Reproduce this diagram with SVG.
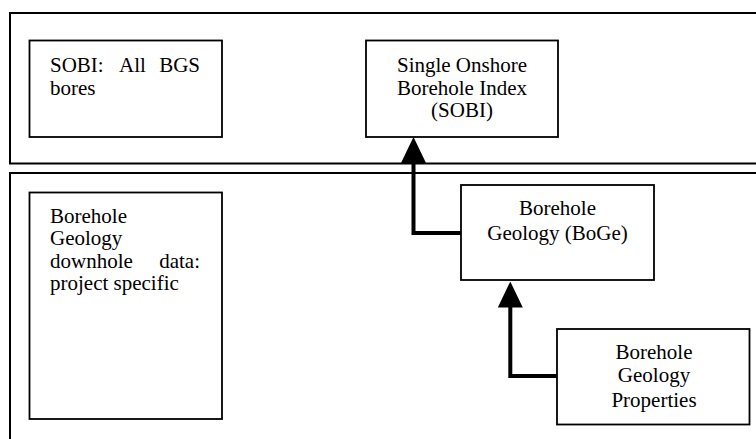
<svg xmlns="http://www.w3.org/2000/svg" width="756" height="439" viewBox="0 0 756 439">
<style>
.frame{fill:none;stroke:#000;stroke-width:2}
.box{fill:#fff;stroke:#000;stroke-width:1.8}
.t{font-family:"Liberation Serif","Times New Roman",serif;font-size:21px;fill:#000}
.c{text-anchor:middle}
.e{text-anchor:end}
.link{fill:none;stroke:#000;stroke-width:4}
</style>
<defs>
<marker id="ah" markerUnits="userSpaceOnUse" markerWidth="26" markerHeight="26" refX="13" refY="12.5" orient="auto" viewBox="0 0 26 25">
<path d="M0,0 L26,12.5 L0,25 Z" fill="#000"/>
</marker>
</defs>
<rect x="0" y="0" width="756" height="439" fill="#fff"/>
<g id="top-frame"><path class="frame" d="M760,13 H10 V163.5 H760"/></g>
<g id="bottom-frame"><path class="frame" d="M760,173 H10 V445"/></g>

<g id="sobi-all">
<rect class="box" x="29.5" y="40.5" width="192.5" height="96.5"/>
<text class="t" y="72"><tspan x="50">SOBI:</tspan><tspan x="119">All</tspan><tspan x="200" class="e">BGS</tspan></text>
<text class="t" x="50" y="95">bores</text>
</g>

<g id="sobi">
<rect class="box" x="366" y="40.5" width="192" height="96.5"/>
<text class="t c" x="462" y="72">Single Onshore</text>
<text class="t c" x="462" y="94.5">Borehole Index</text>
<text class="t c" x="462" y="117">(SOBI)</text>
</g>

<g id="downhole">
<rect class="box" x="29.5" y="192.5" width="192.5" height="226.5"/>
<text class="t" x="50" y="222.5">Borehole</text>
<text class="t" x="50" y="245">Geology</text>
<text class="t" y="267.5"><tspan x="50">downhole</tspan><tspan x="200" class="e">data:</tspan></text>
<text class="t" x="50" y="290">project specific</text>
</g>

<g id="boge">
<rect class="box" x="461" y="185" width="193" height="95"/>
<text class="t c" x="557.5" y="215">Borehole</text>
<text class="t c" x="557.5" y="240">Geology (BoGe)</text>
</g>

<g id="props">
<rect class="box" x="557" y="329" width="192.5" height="95.5"/>
<text class="t c" x="654" y="358.5">Borehole</text>
<text class="t c" x="654" y="382">Geology</text>
<text class="t c" x="654" y="407">Properties</text>
</g>

<g id="connectors">
<path class="link" d="M461,233 H413.5 V150" marker-end="url(#ah)"/>
<path class="link" d="M557,376 H510.3 V294.5" marker-end="url(#ah)"/>
</g>
</svg>
